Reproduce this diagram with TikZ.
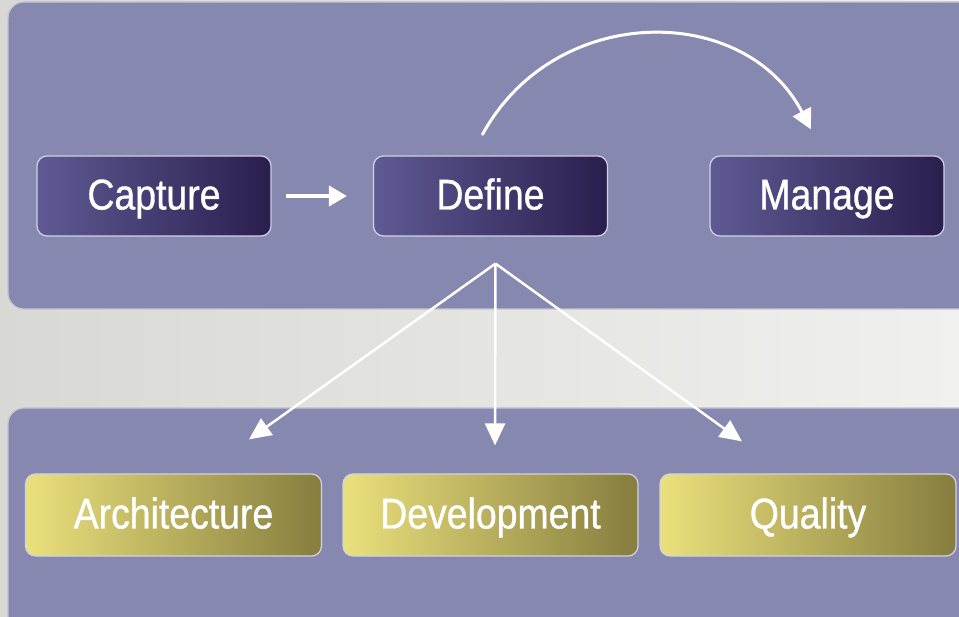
\documentclass[tikz,border=0pt]{standalone}
\usepackage{fontspec}
\setmainfont{Liberation Sans}[FakeStretch=0.87,FakeBold=0.8]
\usetikzlibrary{arrows.meta,calc}
\definecolor{panelc}{HTML}{8788B0}
\definecolor{panelline}{HTML}{C4C4D6}
\definecolor{bgl}{HTML}{D8D8D4}
\definecolor{bgr}{HTML}{F0F0EE}
\definecolor{blueA}{HTML}{5E5A93}
\definecolor{blueB}{HTML}{2A1E4E}
\definecolor{yelA}{HTML}{EAE07C}
\definecolor{yelB}{HTML}{867D3F}
\definecolor{boxline}{HTML}{D2D2E2}
\begin{document}
\begin{tikzpicture}[x=1pt,y=-1pt,
  panel/.style={fill=panelc,draw=panelline,line width=1.2pt,rounded corners=16pt},
  boxbase/.style={draw=boxline,line width=1.2pt,rounded corners=10pt,
    inner sep=0pt,text height=31pt,text depth=4pt,
    text=white,font=\fontsize{43}{43}\selectfont},
  bluebox/.style={boxbase,left color=blueA,right color=blueB,
    minimum width=234pt,minimum height=80pt},
  yelbox/.style={boxbase,left color=yelA,right color=yelB,
    minimum width=296pt,minimum height=82pt},
  thick arrow/.style={draw=white,line width=4pt,-{Triangle[length=18pt,width=20pt]}},
  curve arrow/.style={draw=white,line width=3pt,line cap=round,-{Triangle[length=20pt,width=20pt]}},
  thin arrow/.style={draw=white,line width=2.5pt,-{Triangle[length=22pt,width=20pt]}}]
\useasboundingbox (0,0) rectangle (959,617);
% background
\shade[left color=bgl,right color=bgr] (0,0) rectangle (959,617);
% panels
\path[panel] (8,2) rectangle (975,309);
\path[panel] (8,408) rectangle (975,640);
% top row
\node[bluebox] (cap) at (154,196) {Capture};
\node[bluebox] (def) at (490.5,196) {Define};
\node[bluebox] (man) at (827,196) {Manage};
% bottom row
\node[yelbox] (arch) at (173.5,515) {Architecture};
\node[yelbox,minimum width=295pt] (dev) at (490.5,515) {Development};
\node[yelbox] (qual) at (808,515) {Quality};
% connectors
\path[thick arrow] (cap.east) ++(14,0) coordinate (cs) -- ($(def.west)+(-26,0)$) coordinate (ce);
\coordinate (c1) at ($(def.north)+(-8,-21)$);
\coordinate (c2) at ($(man.north)+(-16,-26)$);
\path[curve arrow] (c1) .. controls (555,2) and (745,2) .. (c2);
\coordinate (fan) at ($(def.south)+(5,27)$);
\coordinate (ta) at ($(arch.north)+(75.5,-34)$);
\coordinate (td) at ($(dev.north)+(4.5,-28)$);
\coordinate (tq) at ($(qual.north)+(-66,-32)$);
\path[thin arrow] (fan) -- (ta);
\path[thin arrow] (fan) -- (td);
\path[thin arrow] (fan) -- (tq);
\end{tikzpicture}
\end{document}
